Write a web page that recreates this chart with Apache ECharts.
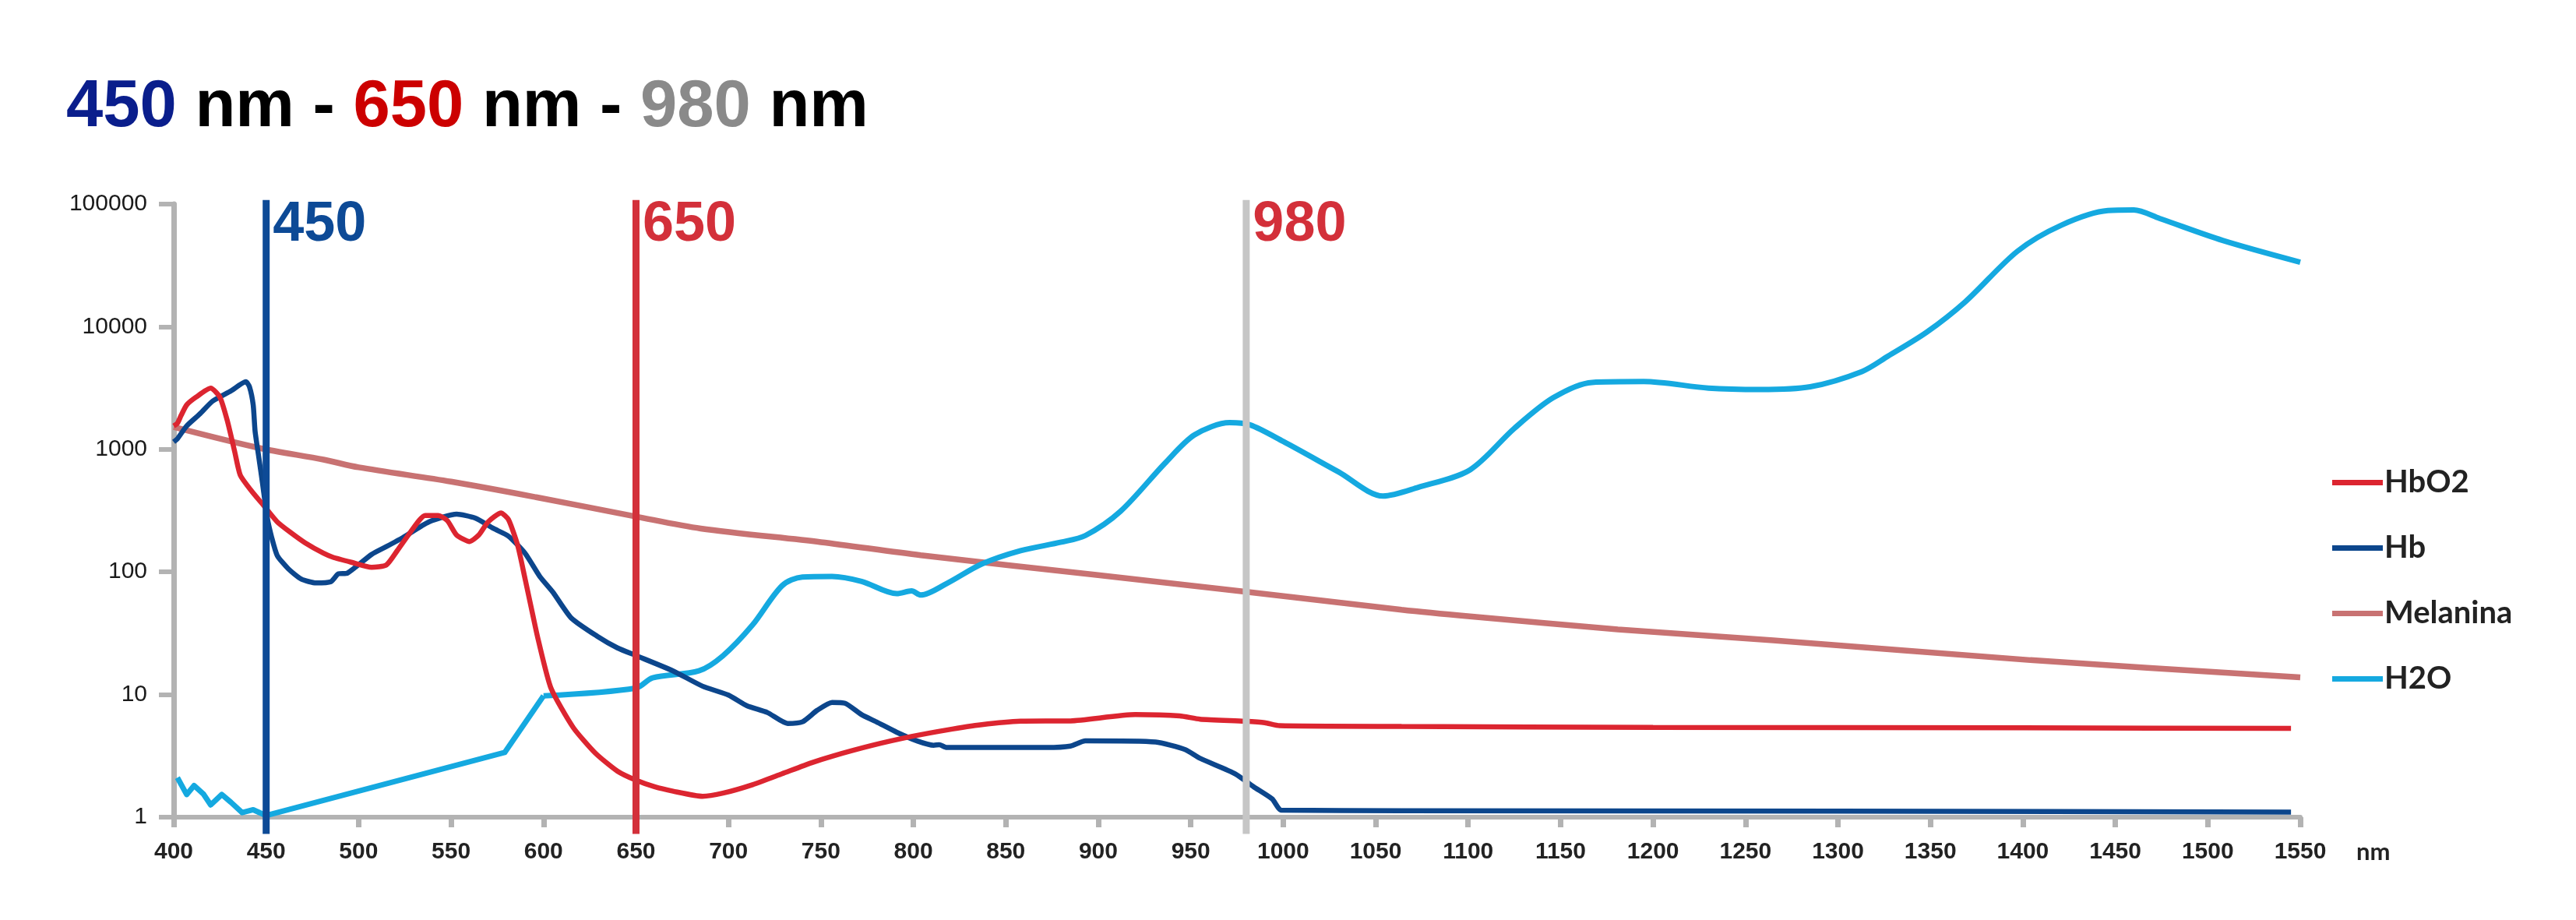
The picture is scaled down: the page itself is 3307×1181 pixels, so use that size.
<!DOCTYPE html>
<html>
<head>
<meta charset="utf-8">
<script src="https://cdn.jsdelivr.net/npm/echarts@6/dist/echarts.min.js"></script>
<style>
html,body{margin:0;padding:0;background:#fff;}
#chart{width:3307px;height:1181px;}
</style>
</head>
<body>
<div id="chart"></div>
<script>
// ---- data (wavelength in nm, absorption values) ----
var hbo2Nm  = [400, 402, 404, 407, 412, 420, 425, 429, 433, 436, 442, 449, 456, 463, 471, 481, 486, 496, 507, 515, 521, 528, 536, 543, 548, 553, 560, 565, 570, 577, 581, 586, 590, 594, 597, 604, 616, 628, 640, 650, 660, 670, 686, 697, 713, 729, 745, 756, 778, 799, 818, 837, 858, 885, 920, 944, 955, 979, 990, 998, 1064, 1200, 1400, 1545];
var hbo2Val = [1550, 1630, 1890, 2300, 2660, 3150, 2660, 1710, 955, 615, 459, 343, 256, 211, 173, 142, 132, 120, 109, 114, 150, 211, 289, 289, 262, 200, 177, 200, 256, 303, 268, 165, 88, 46, 28.5, 11.3, 5.4, 3.33, 2.37, 2.0, 1.77, 1.63, 1.48, 1.57, 1.84, 2.26, 2.78, 3.14, 3.86, 4.55, 5.14, 5.68, 6.06, 6.1, 6.86, 6.7, 6.3, 6.06, 5.9, 5.58, 5.5, 5.4, 5.35, 5.3];

var hbNm  = [400, 402, 407, 414, 421, 431, 439, 441, 443, 444, 446, 448, 450.5, 453, 456, 462, 469, 477, 485, 489, 494, 507, 515, 524, 538, 553, 563, 573, 581, 590, 598, 605, 615, 629, 640, 650, 670, 686, 700, 710, 721, 732, 740, 748, 756, 763, 772, 780, 791, 802, 811, 814, 818, 872, 885, 893, 931, 947, 955, 974, 984, 994, 999, 1064, 1300, 1545];
var hbVal = [1150, 1220, 1550, 1935, 2470, 3000, 3560, 3230, 2296, 1410, 865, 532, 282, 191, 136, 106, 87.5, 81.3, 83.3, 96.4, 98, 139, 161, 191, 256, 296, 275, 226, 196, 142, 91.8, 68.6, 42.1, 29.9, 24, 20.8, 15.6, 11.7, 9.9, 8.1, 7.14, 5.81, 5.99, 7.44, 8.63, 8.5, 6.86, 5.99, 4.93, 4.19, 3.86, 3.9, 3.7, 3.7, 3.8, 4.19, 4.1, 3.56, 3.02, 2.26, 1.77, 1.41, 1.14, 1.13, 1.12, 1.1];

var melNm  = [400, 446, 481, 500, 550, 596, 650, 685, 750, 804, 898, 982, 1064, 1101, 1181, 1265, 1404, 1550];
var melVal = [1520, 1027, 824, 713, 545, 407, 283, 226, 175, 137, 94.8, 68.3, 49.2, 43.4, 34, 27.7, 19.1, 13.8];

var h2oNm  = [402, 407, 411, 416, 420, 426, 431, 437, 443, 450, 579, 600, 650, 659, 684, 697, 713, 729, 740, 756, 772, 791, 799, 804, 818, 837, 858, 880, 893, 912, 936, 952, 971, 982, 1000, 1030, 1054, 1073, 1101, 1125, 1146, 1167, 1195, 1230, 1258, 1285, 1313, 1327, 1348, 1369, 1397, 1421, 1446, 1460, 1474, 1508, 1550];
var h2oVal = [2.1, 1.53, 1.81, 1.55, 1.26, 1.53, 1.32, 1.09, 1.15, 1.03, 3.37, 9.75, 11.3, 13.7, 15.6, 20.7, 36.9, 77.2, 91, 92, 83.8, 66.6, 70, 64.8, 80.4, 116, 149, 175, 198, 312, 769, 1311, 1649, 1583, 1159, 653, 416, 490, 680, 1483, 2634, 3514, 3570, 3158, 3077, 3240, 4313, 5744, 9020, 16040, 41200, 67500, 88500, 89500, 76300, 50600, 33600];

var markerNm     = [450, 650, 980];
var markerLabels = ['450', '650', '980'];
var xTicks = { min: 400, max: 1550, step: 50 };
var yTicks = { min: 1, max: 100000 };

// ---- styling ----
var AXIS_GRAY = '#b3b3b3';
var markerColors = ['#0d4a96', '#d3303a', '#c6c6c6'];
var markerLabelColors = ['#0d4a96', '#d3303a', '#d3303a'];
var LABEL_FONT = 'Liberation Sans, Arial, sans-serif';

function pairs(xs, ys) { return xs.map(function (x, i) { return [x, ys[i]]; }); }

var h2oSplit = h2oNm.indexOf(600);
var h2oAll = pairs(h2oNm, h2oVal);

var series = [
  {
    name: 'Melanina', type: 'line', data: pairs(melNm, melVal), showSymbol: false, smooth: 0.3,
    color: '#c87272', lineStyle: { width: 7.5, color: '#c87272' }, z: 2
  },
  {
    name: 'H2O', type: 'line', data: h2oAll.slice(0, h2oSplit + 1), showSymbol: false, smooth: false,
    color: '#15a9e0', lineStyle: { width: 7, color: '#15a9e0', join: 'round' }, z: 3
  },
  {
    name: 'H2O', type: 'line', data: h2oAll.slice(h2oSplit), showSymbol: false, smooth: 0.3,
    color: '#15a9e0', lineStyle: { width: 7, color: '#15a9e0' }, z: 3
  },
  {
    name: 'Hb', type: 'line', data: pairs(hbNm, hbVal), showSymbol: false, smooth: 0.2,
    color: '#0c468c', lineStyle: { width: 6.5, color: '#0c468c' }, z: 4
  },
  {
    name: 'HbO2', type: 'line', data: pairs(hbo2Nm, hbo2Val), showSymbol: false, smooth: 0.2,
    color: '#dc2530', lineStyle: { width: 6.5, color: '#dc2530' }, z: 5
  }
];

markerNm.forEach(function (nm, i) {
  series.push({
    name: 'marker' + nm, type: 'line', clip: false, silent: true, showSymbol: false,
    data: [[nm, 0.73], [nm, 108000]],
    lineStyle: { width: 9, color: markerColors[i] }, z: 10,
    markPoint: {
      symbol: 'circle', symbolSize: 1, silent: true,
      itemStyle: { color: 'rgba(0,0,0,0)' },
      data: [{
        coord: [nm, yTicks.max],
        label: {
          show: true, formatter: markerLabels[i], position: 'right', distance: 8, offset: [0, 27],
          color: markerLabelColors[i], fontSize: 72, fontWeight: 'bold', fontFamily: LABEL_FONT
        }
      }]
    }
  });
});

var chart = echarts.init(document.getElementById('chart'), null, { renderer: 'canvas' });
var option = {
  backgroundColor: '#ffffff',
  animation: false,
  title: {
    text: '{b|450} nm - {r|650} nm - {g|980} nm',
    left: 80, top: 91,
    textStyle: {
      fontSize: 85, fontWeight: 'bold', color: '#000', fontFamily: LABEL_FONT,
      rich: {
        b: { color: '#0a1e8c', fontSize: 85, fontWeight: 'bold', fontFamily: LABEL_FONT },
        r: { color: '#cc0000', fontSize: 85, fontWeight: 'bold', fontFamily: LABEL_FONT },
        g: { color: '#8a8a8a', fontSize: 85, fontWeight: 'bold', fontFamily: LABEL_FONT }
      }
    }
  },
  legend: {
    data: ['HbO2', 'Hb', 'Melanina', 'H2O'],
    orient: 'vertical', left: 2989, top: 594,
    icon: 'rect', itemWidth: 65, itemHeight: 7, itemGap: 43,
    textStyle: { fontSize: 40, fontWeight: 'bold', color: '#222', fontFamily: 'Lato, Open Sans, sans-serif', lineHeight: 41, padding: [0, 0, 0, -3] }
  },
  grid: { left: 223, right: 354, top: 262, bottom: 132 },
  xAxis: {
    type: 'value', min: xTicks.min, max: xTicks.max, interval: xTicks.step,
    axisLine: { show: true, onZero: false, lineStyle: { color: AXIS_GRAY, width: 6 } },
    axisTick: { show: true, length: 13, lineStyle: { color: AXIS_GRAY, width: 7 } },
    axisLabel: {
      margin: 30, fontSize: 30, fontWeight: 'bold', color: '#222', fontFamily: LABEL_FONT,
      formatter: function (v) { return String(Math.round(v)); }
    },
    splitLine: { show: false }
  },
  yAxis: {
    type: 'log', logBase: 10, min: yTicks.min, max: yTicks.max,
    axisLine: { show: true, lineStyle: { color: AXIS_GRAY, width: 7 } },
    axisTick: { show: true, length: 19, lineStyle: { color: AXIS_GRAY, width: 6 } },
    axisLabel: {
      margin: 34, fontSize: 30, color: '#1a1a1a', fontFamily: LABEL_FONT,
      formatter: function (v) { return String(Math.round(v)); }
    },
    splitLine: { show: false }, minorTick: { show: false }
  },
  series: series
};
chart.setOption(option);

// axis unit "nm", placed next to the last x tick label using the chart's own scale
var p = chart.convertToPixel({ xAxisIndex: 0, yAxisIndex: 0 }, [xTicks.max, yTicks.min]);
chart.setOption({
  graphic: [{
    type: 'text', x: p[0] + 72, y: p[1] + 45,
    style: { text: 'nm', fontSize: 31, fontWeight: 'bold', fill: '#222', fontFamily: 'Lato, Open Sans, sans-serif', verticalAlign: 'middle', align: 'left' }
  }]
});
</script>
</body>
</html>
